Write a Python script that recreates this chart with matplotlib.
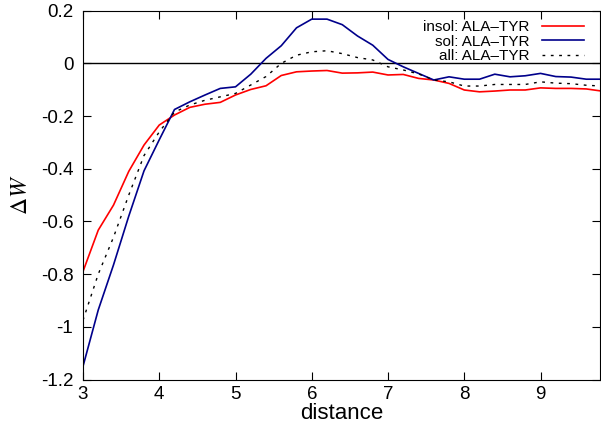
import numpy as np
import matplotlib.pyplot as plt

plt.rcParams['font.family'] = ['Liberation Sans', 'DejaVu Sans']
plt.rcParams['axes.unicode_minus'] = False
plt.rcParams['mathtext.fontset'] = 'stix'

distance = np.round(np.arange(3.0, 9.81, 0.2), 1)

insol = [-0.79, -0.633, -0.538, -0.41, -0.31, -0.234, -0.196, -0.167, -0.155, -0.148,
         -0.12, -0.099, -0.085, -0.046, -0.032, -0.029, -0.027, -0.037, -0.036, -0.033,
         -0.044, -0.042, -0.057, -0.063, -0.076, -0.101, -0.108, -0.105, -0.101, -0.101,
         -0.093, -0.095, -0.095, -0.097, -0.105]
sol = [-1.15, -0.936, -0.765, -0.58, -0.408, -0.29, -0.175, -0.146, -0.12, -0.095,
       -0.089, -0.041, 0.019, 0.067, 0.135, 0.168, 0.168, 0.147, 0.104, 0.069,
       0.015, -0.013, -0.038, -0.063, -0.051, -0.06, -0.06, -0.041, -0.051, -0.047,
       -0.038, -0.05, -0.052, -0.06, -0.06]
all_ = [-0.975, -0.80, -0.66, -0.50, -0.35, -0.26, -0.185, -0.158, -0.14, -0.127,
        -0.114, -0.082, -0.05, 0.0, 0.031, 0.044, 0.048, 0.037, 0.022, 0.013,
        -0.013, -0.025, -0.04, -0.063, -0.07, -0.086, -0.086, -0.08, -0.08, -0.08,
        -0.07, -0.075, -0.077, -0.083, -0.086]
yticks = [-1.2, -1.0, -0.8, -0.6, -0.4, -0.2, 0.0, 0.2]
ytick_labels = ['-1.2', '-1', '-0.8', '-0.6', '-0.4', '-0.2', '0', '0.2']

fig = plt.figure(figsize=(6.01, 4.34), dpi=100)
ax = fig.add_axes([83 / 601, 1 - 379.5 / 434, 517 / 601, 368.8 / 434])

ax.axhline(0, color='black', lw=1)
ax.plot(distance, insol, color='#ff0000', lw=1.2, label='insol: ALA\u2013TYR')
ax.plot(distance, sol, color='#00008b', lw=1.2, label='sol: ALA\u2013TYR')
ax.plot(distance, all_, color='black', lw=1.0, ls=(0, (2, 4)), label='all: ALA\u2013TYR')

ax.set_xlim(3, 9.78)
ax.set_ylim(-1.2, 0.2)
ax.set_xticks([3, 4, 5, 6, 7, 8, 9])
ax.set_yticks(yticks)
ax.set_yticklabels(ytick_labels)
ax.tick_params(direction='in', top=True, right=True, length=6, labelsize=13.5)
ax.tick_params(axis='x', pad=5)
ax.tick_params(axis='y', pad=7)
ax.set_xlabel('distance', fontsize=16, labelpad=0)
ax.set_ylabel(r'$\Delta W$', fontsize=17, labelpad=6)

leg = ax.legend(loc='upper right', frameon=False, markerfirst=False, fontsize=11,
                handlelength=2.75, borderaxespad=0.2, labelspacing=0.05, handletextpad=0.8,
                bbox_to_anchor=(0.986, 1.0))
for t in leg.get_texts():
    t.set_ha('right')
leg._legend_box.align = 'right'

fig.savefig('out.png', dpi=100)
